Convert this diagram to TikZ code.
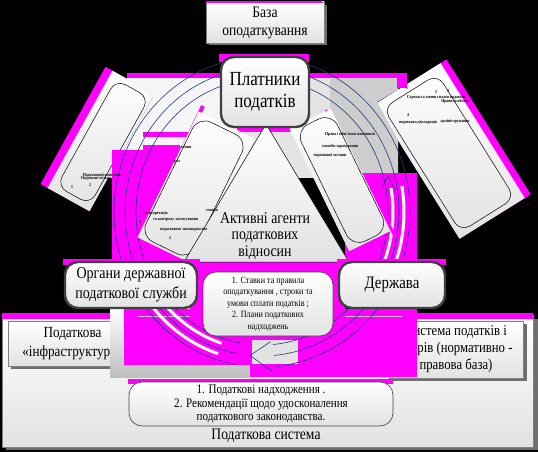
\documentclass[tikz,border=0pt]{standalone}
\usepackage{fontspec}
\setmainfont[FakeStretch=0.85]{Liberation Serif}
\definecolor{mag}{RGB}{255,0,255}
\definecolor{bord}{RGB}{64,64,64}
\definecolor{shad}{RGB}{110,110,110}
\definecolor{arcblue}{RGB}{25,60,130}
\definecolor{lgray}{RGB}{226,226,226}
\definecolor{mgray}{RGB}{190,190,190}
\definecolor{topgA}{RGB}{245,245,245}
\definecolor{topgB}{RGB}{228,228,228}
\definecolor{topgC}{RGB}{205,205,205}
\tikzset{
  agent/.style={draw=bord,line width=2.4pt,rounded corners=13pt,top color=white,bottom color=lgray,align=center,inner sep=1pt},
  plainbox/.style={draw=gray,line width=0.8pt,top color=white,bottom color=lgray,align=center,inner sep=1pt},
  roundbox/.style={draw=bord,line width=0.6pt,rounded corners=13pt,top color=white,bottom color=lgray,align=center,inner sep=1pt},
  patch/.style={inner sep=0pt,outer sep=0pt,anchor=north west},
  tiltfill/.style={inner sep=0pt,top color=white,bottom color=lgray},
  tiltline/.style={draw=black,line width=0.5pt,rounded corners=11pt,inner sep=0pt},
  tiny/.style={font=\fontsize{4.5}{5}\selectfont\bfseries,inner sep=0pt},
  arcline/.style={draw=arcblue,line width=0.6pt},
  wstrip/.style={draw=white,line width=3pt},
}
\begin{document}
\begin{tikzpicture}[x=1pt,y=-1pt]
\useasboundingbox (0,0) rectangle (538,452);
\fill[black] (0,0) rectangle (538,452);

% ---- bottom: tax system frame
\fill[shad] (6,319) rectangle (538,450);
\node[plainbox,minimum width=531,minimum height=132,anchor=north west] (sys) at (2,315) {};
\fill[mag] (2,313) rectangle (533,319);
\node[font=\fontsize{16}{18}\selectfont] (systxt) at (266,436) {Податкова система};

\fill[shad] (11,324) rectangle (140,369);
\node[plainbox,minimum width=129,minimum height=45,font=\fontsize{15.5}{19}\selectfont] (infra) at (72.5,343.5) {Податкова\\«інфраструктура»};
\fill[shad] (392,324) rectangle (527,381);
\node[plainbox,minimum width=134,minimum height=57,font=\fontsize{15}{17}\selectfont] (law) at (456,349.5) {Система податків і\\зборів (нормативно -\\правова база)};

% cover patches over bottom frame
\node[patch,minimum width=140,minimum height=69,top color=white,bottom color=mgray] (cover) at (110,308) {};
\fill[mag] (124,309) rectangle (250,365);
\fill[mag] (250,309) rectangle (417,377);
\fill[lgray] (252,338) rectangle (298,364);
\draw[mgray,line width=0.8pt] (137,316) -- (402,316);

% ---- outer tilted boxes
\node[rotate=61,minimum width=134,minimum height=56,inner sep=0pt,fill=mag] (lomag) at (97.5,139) {};
\node[rotate=61,minimum width=134,minimum height=48,tiltfill] (lo) at (101,141) {};
\node[rotate=61,minimum width=122,minimum height=38,tiltline] (loin) at (103,142) {};
\node[rotate=-58,minimum width=159,minimum height=83,inner sep=0pt,fill=mag] (romag) at (453.4,148.9) {};
\node[rotate=-58,minimum width=159,minimum height=77,tiltfill] (ro) at (450,151) {};
\node[rotate=-58,minimum width=146,minimum height=64,tiltline] (roin) at (449,153) {};

% ---- upper grey background (fitted around the outer tilted boxes)
\path[fill=topgA] (127,76) -- (230,76) -- (230,178) -- (108,178) -- (153,97) -- (127,79.5) -- cycle;
\path[fill=topgB] (230,76) rectangle (330,178);
\path[fill=topgC] (330,76) -- (398,76) -- (398,89.6) -- (377,102) -- (398,140) -- (398,178) -- (330,178) -- cycle;

% ---- magenta patches
\fill[mag] (127,73) rectangle (398,78);
\fill[mag] (397,73) rectangle (407,88);
\fill[mag] (360,173) rectangle (417,190);
\fill[mag] (112,150) rectangle (205,262);
\fill[mag] (345,180) rectangle (417,262);
\fill[mag] (190,258) rectangle (345,340);
\fill[mag] (143,132) rectangle (190,137);
\fill[mag] (143,145) rectangle (180,150);
\fill[mag] (237,124) rectangle (307,132);

% ---- white strips and blue circular arrows
\foreach \a/\b in {131/138,142/149}{
  \draw[wstrip] plot[domain=108:150,samples=30,smooth] ({262+\a*cos(\x)},{212+\b*sin(\x)});
  \draw[wstrip] plot[domain=350:390,samples=30,smooth] ({262+\a*cos(\x)},{212+\b*sin(\x)});
}
\foreach \a/\b in {126/133,137/144,148/155}{
  \draw[arcline] plot[domain=100:445,samples=120,smooth] ({262+\a*cos(\x)},{212+\b*sin(\x)});
}
\coordinate (tipA) at (250,355.5);
\coordinate (armA1) at (270.5,341.7);
\coordinate (armA2) at (272.6,371.6);
\draw[arcline] (armA1) -- (tipA) -- (armA2);
\coordinate (tipB) at (388,176);
\coordinate (armB1) at (381,190);
\coordinate (armB2) at (395,190);
\draw[arcline] (armB1) -- (tipB) -- (armB2);

% ---- inner tilted boxes
\draw[mag,line width=4pt] (203,106) -- (146,226);
\node[rotate=64,minimum width=140,minimum height=62,tiltfill] (liw) at (196,188) {};
\node[rotate=64,minimum width=133,minimum height=55,tiltline,rounded corners=14pt] (li) at (194,188) {};
\draw[mag,line width=3pt] (326,110) -- (396,238);
\node[rotate=-64,minimum width=136,minimum height=46,tiltfill] (riw) at (340,180) {};
\node[rotate=-64,minimum width=130,minimum height=40,tiltline,rounded corners=14pt] (ri) at (342,180) {};

% ---- central triangle
\coordinate (ta) at (266,124);
\coordinate (tl) at (184,262);
\coordinate (tr) at (349,262);
\draw[black,line width=0.5pt,top color=white,bottom color=lgray] (ta) -- (tl) -- (tr) -- cycle;

% ---- tiny texts inside tilted boxes
\node[tiny] at (102,175) {Податковий контроль};
\node[tiny] at (96,178) {Податкові пільги};
\node[tiny] at (72,187) {1};
\node[tiny] at (90,185) {2};
\node[tiny,anchor=west] at (143,213) {Інтерпретація};
\node[tiny,anchor=west] at (153,220) {та контроль застосування};
\node[tiny,anchor=west] at (160,230) {податкового законодавства};
\node[tiny,anchor=east] at (218,210) {ставки};
\node[tiny] at (140,222) {1};
\node[tiny] at (170,238) {2};
\node[tiny,anchor=west] at (180,147) {ження};
\node[tiny] at (177,162) {рол};
\node[tiny] at (350,134) {Права і обов'язки платників};
\node[tiny] at (340,146) {способи зарахування};
\node[tiny] at (330,155) {податкової застави};
\node[tiny] at (436,97) {Строки та умови сплати податків};
\node[tiny] at (455,101) {Правила обліку};
\node[tiny] at (407,88) {1};
\node[tiny] at (436,92) {2};
\node[tiny] at (448,91) {3};
\node[tiny] at (408,115) {4};
\node[tiny] at (418,122) {податкова декларація};
\node[tiny] at (455,121) {адміністрування};

% ---- main agents
\fill[mag] (219,54) rectangle (309,62);
\node[agent,minimum width=88,minimum height=70,font=\fontsize{20}{22}\selectfont] (payers) at (265,92) {Платники\\податків};
\fill[mag] (63,259) rectangle (200,265);
\node[agent,minimum width=132,minimum height=46,font=\fontsize{16.5}{19.5}\selectfont] (organs) at (131,285) {Органи державної\\податкової служби};
\fill[mag] (337,259) rectangle (446,265);
\node[agent,minimum width=106,minimum height=46,font=\fontsize{17.5}{20}\selectfont] (state) at (392,285) {Держава};

\node[roundbox,minimum width=130,minimum height=64,font=\fontsize{9.5}{11.5}\selectfont] (rates) at (268,304) {1. Ставки та правила\\оподаткування , строки та\\умови сплати податків ;\\2. Плани податкових\\надходжень};

\fill[mag] (128,379) rectangle (393,384);
\node[roundbox,minimum width=264,minimum height=44,font=\fontsize{13}{13.5}\selectfont] (results) at (261,404) {1. Податкові надходження .\\2. Рекомендації щодо удосконалення\\податкового законодавства.};

\node[font=\fontsize{16.3}{16.5}\selectfont,align=center] (agents) at (265,236) {Активні агенти\\податкових\\відносин};

% ---- tax base box
\fill[shad] (209,5) rectangle (327,45);
\node[plainbox,minimum width=118,minimum height=41,font=\fontsize{16}{18}\selectfont] (base) at (265,22.5) {База\\оподаткування};
\fill[mag] (206,1) rectangle (322,3.5);
\end{tikzpicture}
\end{document}
